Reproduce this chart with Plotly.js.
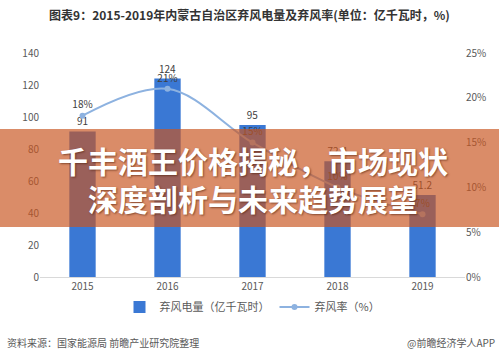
<!DOCTYPE html>
<html>
<head>
<meta charset="utf-8">
<script src="https://cdn.plot.ly/plotly-3.0.1.min.js"></script>
<style>html,body{margin:0;padding:0;background:#fff;}#chart{width:499px;height:356px;}</style>
</head>
<body>
<div id="chart"></div>
<script>
const years = ['2015', '2016', '2017', '2018', '2019'];
const curtailedPower = [91, 124, 95, 72.4, 51.2];
const curtailRate = [18, 21, 15, 10, 7];
const barLabels = ['91', '124', '95', '72.4', '51.2'];
const rateLabels = ['18%', '21%', '15%', '10%', '7%'];

const cjk = '"Noto Sans CJK SC", "Noto Sans", sans-serif';

const traces = [
  {
    type: 'bar', name: '弃风电量（亿千瓦时）', x: years, y: curtailedPower,
    text: barLabels, textposition: 'outside', cliponaxis: false,
    textfont: {size: 10, color: '#404040', family: cjk},
    marker: {color: '#3a78d4'}, width: 0.31, yaxis: 'y'
  },
  {
    type: 'scatter', mode: 'lines+markers+text', name: '弃风率（%）', x: years, y: curtailRate,
    text: rateLabels, textposition: 'top center', cliponaxis: false,
    textfont: {size: 10, color: '#404040', family: cjk},
    line: {shape: 'spline', color: '#8db2e0', width: 2},
    marker: {size: 6, color: '#8db2e0'}, yaxis: 'y2'
  }
];

const layout = {
  width: 499, height: 356,
  margin: {l: 40, r: 34, t: 53, b: 79},
  paper_bgcolor: '#ffffff', plot_bgcolor: '#ffffff',
  font: {family: cjk, color: '#595959', size: 10},
  title: {text: '<b>图表9：2015-2019年内蒙古自治区弃风电量及弃风率(单位：亿千瓦时，%)</b>',
    x: 0.5, xanchor: 'center', y: 0.957, yanchor: 'middle', font: {size: 12, color: '#333333', family: cjk}},
  showlegend: true,
  legend: {orientation: 'h', x: 0.5, xanchor: 'center', y: -0.134, yanchor: 'middle', font: {size: 11, color: '#595959'}},
  xaxis: {type: 'category', range: [-0.5, 4.5], showline: true, linecolor: '#d9d9d9', ticks: '', showgrid: false,
    tickfont: {size: 10, color: '#595959'}},
  yaxis: {range: [0, 140], dtick: 20, showgrid: false, zeroline: false, ticks: '', tickfont: {size: 10, color: '#595959'}},
  yaxis2: {range: [0, 25], dtick: 5, ticksuffix: '%', overlaying: 'y', side: 'right', showgrid: false, zeroline: false,
    ticks: '', tickfont: {size: 10, color: '#595959'}},
  bargap: 0.69,
  shapes: [
    {type: 'rect', xref: 'paper', yref: 'paper', x0: -0.2, x1: 1.2, y0: (277 - 129) / 224, y1: (277 - 227) / 224,
      fillcolor: 'rgba(200,86,33,0.68)', line: {width: 0}, layer: 'above'}
  ],
  annotations: [
    {text: '千丰酒王价格揭秘，市场现状', xref: 'paper', yref: 'paper', x: 0.5, y: (277 - 160) / 224,
      xanchor: 'center', yanchor: 'middle', showarrow: false,
      font: {size: 30, color: '#ffffff', family: cjk, weight: 'bold', shadow: '1px 1px 2px rgba(80,30,10,0.6)'}},
    {text: '深度剖析与未来趋势展望', xref: 'paper', yref: 'paper', x: 0.5, y: (277 - 198) / 224,
      xanchor: 'center', yanchor: 'middle', showarrow: false,
      font: {size: 30, color: '#ffffff', family: cjk, weight: 'bold', shadow: '1px 1px 2px rgba(80,30,10,0.6)'}},
    {text: '资料来源：国家能源局 前瞻产业研究院整理', xref: 'paper', yref: 'paper', x: -40 / 425 + 5 / 425, y: (277 - 342) / 224,
      xanchor: 'left', yanchor: 'middle', showarrow: false, font: {size: 10, color: '#595959', family: cjk}},
    {text: '@前瞻经济学人APP', xref: 'paper', yref: 'paper', x: (497 - 40) / 425, y: (277 - 342) / 224,
      xanchor: 'right', yanchor: 'middle', showarrow: false, font: {size: 10, color: '#595959', family: cjk}}
  ]
};

Plotly.newPlot('chart', traces, layout, {displayModeBar: false, staticPlot: true});
</script>
</body>
</html>
